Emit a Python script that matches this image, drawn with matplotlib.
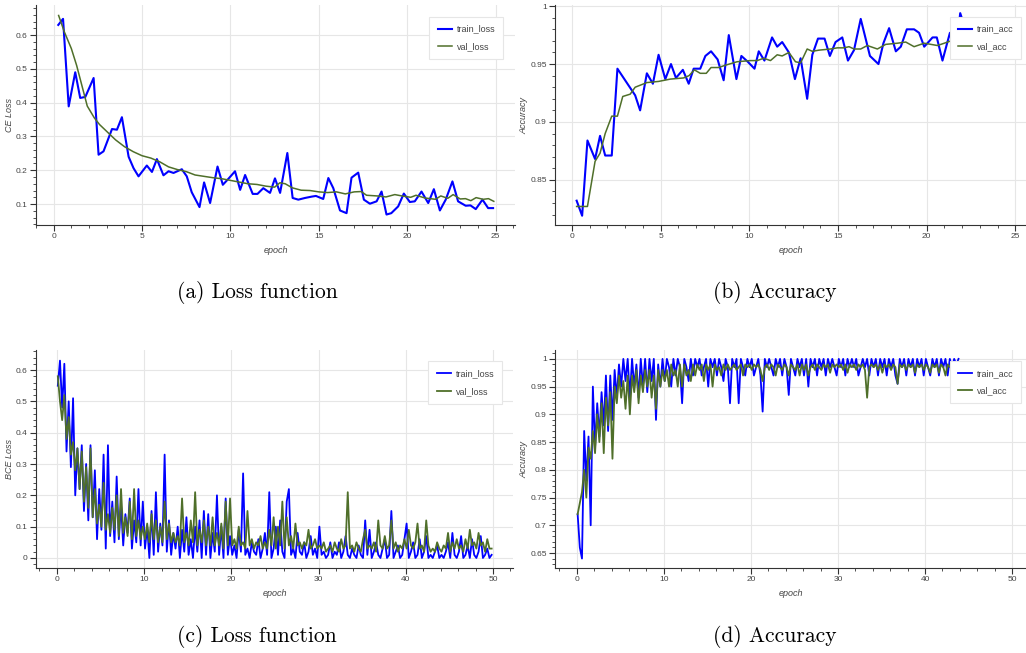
import numpy as np
import matplotlib
matplotlib.use("Agg")
import matplotlib.pyplot as plt
from matplotlib.ticker import MultipleLocator, FuncFormatter

plt.rcParams['font.family'] = ['Liberation Sans', 'DejaVu Sans']

# ---- (a) CE loss, 25 epochs ----
a_train_x = [0.26, 0.53, 0.85, 1.22, 1.5, 1.79, 2.26, 2.54, 2.82, 3.3, 3.58, 3.86, 4.24, 4.52,
             4.8, 5.27, 5.56, 5.84, 6.21, 6.5, 6.78, 7.25, 7.53, 7.81, 8.25, 8.51, 8.85, 9.27,
             9.57, 9.89, 10.26, 10.55, 10.83, 11.26, 11.53, 11.86, 12.24, 12.52, 12.81, 13.22,
             13.52, 13.84, 14.22, 14.6, 14.84, 15.25, 15.54, 15.82, 16.2, 16.57, 16.85, 17.23,
             17.55, 17.89, 18.27, 18.55, 18.83, 19.1, 19.49, 19.81, 20.15, 20.43, 20.81, 21.19,
             21.51, 21.85, 22.18, 22.56, 22.88, 23.31, 23.58, 23.88, 24.26, 24.58, 24.86]
a_train_loss = [0.63, 0.648, 0.389, 0.49, 0.414, 0.417, 0.473, 0.246, 0.256, 0.322, 0.32, 0.357,
                0.24, 0.206, 0.182, 0.214, 0.195, 0.233, 0.185, 0.197, 0.192, 0.203, 0.182, 0.135,
                0.091, 0.164, 0.103, 0.211, 0.157, 0.175, 0.197, 0.142, 0.186, 0.13, 0.13, 0.147,
                0.133, 0.176, 0.133, 0.251, 0.118, 0.113, 0.118, 0.122, 0.124, 0.115, 0.177, 0.147,
                0.081, 0.073, 0.178, 0.193, 0.113, 0.101, 0.108, 0.137, 0.069, 0.073, 0.093, 0.131,
                0.106, 0.108, 0.137, 0.103, 0.144, 0.081, 0.113, 0.167, 0.108, 0.095, 0.096, 0.085,
                0.113, 0.088, 0.088]
a_val_x = [0.28, 0.6, 1.0, 1.3, 1.6, 1.9, 2.3, 2.6, 3.0, 3.5, 4.0, 4.5, 5.0, 5.5, 6.0, 6.5, 7.0,
           7.5, 8.0, 8.5, 9.0, 9.5, 10.0, 10.5, 11.0, 11.5, 12.0, 12.5, 12.8, 13.1, 13.5, 14.0,
           14.5, 15.0, 15.5, 16.0, 16.5, 17.0, 17.4, 17.7, 18.3, 18.8, 19.3, 19.7, 20.2, 20.5,
           21.0, 21.6, 21.9, 22.3, 22.6, 23.0, 23.3, 23.6, 23.9, 24.3, 24.6, 24.9]
a_val_loss = [0.658, 0.61, 0.56, 0.51, 0.45, 0.39, 0.355, 0.335, 0.315, 0.29, 0.27, 0.255, 0.243,
              0.236, 0.225, 0.21, 0.202, 0.196, 0.186, 0.182, 0.178, 0.175, 0.17, 0.165, 0.16,
              0.158, 0.153, 0.15, 0.163, 0.16, 0.148, 0.141, 0.14, 0.136, 0.134, 0.136, 0.13,
              0.136, 0.137, 0.126, 0.124, 0.121, 0.128, 0.124, 0.12, 0.126, 0.118, 0.114, 0.124,
              0.117, 0.128, 0.115, 0.116, 0.11, 0.119, 0.114, 0.116, 0.108]

# ---- (b) accuracy, 25 epochs ----
b_train_x = [0.26, 0.57, 0.87, 1.3, 1.58, 1.87, 2.24, 2.56, 3.56, 3.84, 4.22, 4.56, 4.88, 5.26,
             5.58, 5.86, 6.25, 6.58, 6.86, 7.23, 7.52, 7.84, 8.21, 8.55, 8.84, 9.27, 9.55, 9.91,
             10.29, 10.53, 10.85, 11.28, 11.57, 11.85, 12.23, 12.57, 12.89, 13.26, 13.55, 13.87,
             14.24, 14.54, 14.86, 15.24, 15.56, 15.9, 16.28, 16.8, 17.28, 17.56, 17.88, 18.26,
             18.54, 18.88, 19.29, 19.57, 19.86, 20.1, 20.33, 20.57, 20.89, 21.31, 21.61, 21.89,
             22.08]
b_train_acc = [0.832, 0.819, 0.884, 0.868, 0.888, 0.871, 0.871, 0.946, 0.923, 0.91, 0.942, 0.933,
               0.958, 0.937, 0.95, 0.938, 0.945, 0.933, 0.946, 0.946, 0.957, 0.961, 0.954, 0.936,
               0.975, 0.937, 0.957, 0.952, 0.946, 0.961, 0.953, 0.973, 0.965, 0.969, 0.96, 0.937,
               0.955, 0.92, 0.958, 0.972, 0.972, 0.957, 0.969, 0.973, 0.953, 0.962, 0.989, 0.957,
               0.95, 0.968, 0.981, 0.961, 0.965, 0.98, 0.98, 0.977, 0.965, 0.969, 0.973, 0.973,
               0.953, 0.977, 0.956, 0.994, 0.985]
b_val_x = [0.26, 0.87, 1.3, 1.58, 1.87, 2.24, 2.56, 2.86, 3.28, 3.56, 4.22, 4.88, 5.54, 6.29, 6.6,
           6.9, 7.23, 7.57, 7.84, 8.27, 8.65, 9.31, 10.06, 10.44, 10.81, 11.19, 11.57, 11.85,
           12.23, 12.6, 12.89, 13.26, 13.55, 13.92, 14.58, 14.96, 15.34, 15.62, 15.9, 16.28,
           16.65, 17.22, 17.69, 18.35, 18.82, 19.29, 19.86, 20.61, 20.99, 21.36, 21.93]
b_val_acc = [0.827, 0.827, 0.866, 0.873, 0.89, 0.905, 0.905, 0.922, 0.924, 0.93, 0.934, 0.935,
             0.937, 0.938, 0.94, 0.945, 0.942, 0.942, 0.947, 0.947, 0.949, 0.952, 0.953, 0.953,
             0.955, 0.953, 0.958, 0.957, 0.96, 0.952, 0.951, 0.963, 0.961, 0.962, 0.963, 0.964,
             0.964, 0.965, 0.963, 0.963, 0.966, 0.963, 0.967, 0.968, 0.969, 0.965, 0.968, 0.966,
             0.968, 0.97, 0.968]

# ---- (c) BCE loss, 50 epochs, 4 logged points per epoch ----
c_train_loss = [
    0.55, 0.63, 0.48, 0.62, 0.34, 0.50, 0.29, 0.51,
    0.20, 0.35, 0.22, 0.36, 0.15, 0.30, 0.12, 0.36,
    0.13, 0.28, 0.06, 0.22, 0.09, 0.33, 0.03, 0.36,
    0.07, 0.18, 0.05, 0.26, 0.06, 0.17, 0.04, 0.14,
    0.08, 0.19, 0.03, 0.12, 0.05, 0.22, 0.04, 0.18,
    0.03, 0.10, 0.00, 0.15, 0.01, 0.21, 0.02, 0.11,
    0.04, 0.33, 0.02, 0.12, 0.01, 0.08, 0.03, 0.10,
    0.00, 0.09, 0.02, 0.13, 0.01, 0.06, 0.00, 0.10,
    0.02, 0.12, 0.00, 0.15, 0.01, 0.14, 0.00, 0.08,
    0.02, 0.20, 0.01, 0.10, 0.00, 0.19, 0.01, 0.07,
    0.01, 0.04, 0.00, 0.09, 0.02, 0.27, 0.01, 0.03,
    0.00, 0.05, 0.02, 0.01, 0.06, 0.00, 0.03, 0.08,
    0.01, 0.21, 0.00, 0.03, 0.10, 0.01, 0.12, 0.02,
    0.00, 0.18, 0.22, 0.01, 0.03, 0.00, 0.08, 0.02,
    0.01, 0.05, 0.00, 0.02, 0.07, 0.01, 0.03, 0.00,
    0.10, 0.01, 0.02, 0.00, 0.01, 0.05, 0.00, 0.02,
    0.01, 0.05, 0.00, 0.02, 0.07, 0.01, 0.00, 0.03,
    0.01, 0.00, 0.04, 0.01, 0.00, 0.12, 0.01, 0.09,
    0.00, 0.02, 0.05, 0.01, 0.00, 0.03, 0.06, 0.00,
    0.01, 0.15, 0.00, 0.02, 0.04, 0.00, 0.01, 0.06,
    0.11, 0.00, 0.02, 0.05, 0.00, 0.01, 0.06, 0.00,
    0.02, 0.07, 0.00, 0.01, 0.00, 0.02, 0.04, 0.00,
    0.01, 0.00, 0.02, 0.05, 0.00, 0.08, 0.01, 0.00,
    0.02, 0.07, 0.00, 0.01, 0.04, 0.00, 0.06, 0.01,
    0.00, 0.02, 0.07, 0.00, 0.01, 0.03, 0.00, 0.01]
c_val_loss = [
    0.58, 0.50, 0.44, 0.52, 0.38, 0.45, 0.33, 0.37,
    0.28, 0.35, 0.22, 0.34, 0.18, 0.29, 0.16, 0.35,
    0.13, 0.22, 0.11, 0.17, 0.10, 0.24, 0.09, 0.14,
    0.08, 0.16, 0.09, 0.20, 0.07, 0.22, 0.08, 0.13,
    0.07, 0.18, 0.06, 0.22, 0.07, 0.12, 0.06, 0.10,
    0.06, 0.11, 0.05, 0.14, 0.06, 0.12, 0.05, 0.10,
    0.05, 0.18, 0.06, 0.11, 0.05, 0.08, 0.05, 0.07,
    0.04, 0.19, 0.05, 0.08, 0.04, 0.12, 0.05, 0.21,
    0.04, 0.09, 0.05, 0.12, 0.04, 0.10, 0.04, 0.13,
    0.04, 0.08, 0.04, 0.11, 0.03, 0.18, 0.04, 0.19,
    0.04, 0.06, 0.03, 0.10, 0.04, 0.05, 0.03, 0.15,
    0.04, 0.06, 0.03, 0.05, 0.04, 0.07, 0.03, 0.05,
    0.03, 0.09, 0.04, 0.13, 0.03, 0.10, 0.04, 0.18,
    0.03, 0.13, 0.04, 0.07, 0.03, 0.11, 0.04, 0.05,
    0.03, 0.05, 0.04, 0.09, 0.03, 0.04, 0.06, 0.03,
    0.04, 0.03, 0.05, 0.02, 0.03, 0.04, 0.02, 0.05,
    0.03, 0.02, 0.06, 0.03, 0.04, 0.21, 0.03, 0.04,
    0.02, 0.05, 0.03, 0.02, 0.06, 0.09, 0.03, 0.04,
    0.03, 0.05, 0.02, 0.12, 0.04, 0.03, 0.07, 0.03,
    0.04, 0.12, 0.03, 0.05, 0.02, 0.04, 0.03, 0.06,
    0.03, 0.09, 0.04, 0.03, 0.05, 0.11, 0.03, 0.04,
    0.02, 0.12, 0.04, 0.02, 0.03, 0.02, 0.05, 0.03,
    0.02, 0.04, 0.03, 0.08, 0.02, 0.05, 0.03, 0.06,
    0.03, 0.04, 0.02, 0.06, 0.03, 0.09, 0.04, 0.05,
    0.03, 0.08, 0.04, 0.05, 0.02, 0.06, 0.03, 0.03]

# ---- (d) accuracy, 44 epochs, 4 logged points per epoch ----
d_train_acc = [
    0.72, 0.66, 0.64, 0.87, 0.78, 0.86, 0.70, 0.95,
    0.84, 0.92, 0.86, 0.94, 0.88, 0.97, 0.87, 0.97,
    0.89, 0.98, 0.93, 0.99, 0.95, 1.00, 0.96, 1.00,
    0.93, 1.00, 0.95, 0.99, 0.93, 1.00, 0.95, 1.00,
    0.94, 1.00, 0.96, 1.00, 0.89, 0.99, 0.95, 1.00,
    0.96, 1.00, 0.985, 0.95, 1.00, 0.97, 1.00, 0.985,
    0.92, 1.00, 0.985, 0.96, 1.00, 0.97, 1.00, 0.985,
    1.00, 0.97, 0.985, 1.00, 0.95, 1.00, 0.985, 1.00,
    0.97, 1.00, 0.985, 0.96, 1.00, 0.985, 0.92, 1.00,
    0.985, 1.00, 0.92, 1.00, 0.985, 0.97, 1.00, 0.985,
    1.00, 0.97, 0.985, 1.00, 0.97, 0.905, 1.00, 0.985,
    1.00, 0.985, 0.97, 1.00, 0.985, 1.00, 0.97, 1.00,
    0.985, 0.935, 1.00, 0.985, 0.97, 1.00, 0.985, 1.00,
    0.97, 1.00, 0.95, 1.00, 0.985, 1.00, 0.97, 1.00,
    0.985, 1.00, 0.97, 1.00, 0.985, 1.00, 0.985, 0.97,
    1.00, 0.985, 1.00, 0.97, 1.00, 0.985, 1.00, 0.985,
    1.00, 0.97, 0.985, 1.00, 0.985, 1.00, 0.97, 1.00,
    0.985, 1.00, 0.97, 1.00, 0.985, 1.00, 0.97, 1.00,
    0.985, 1.00, 0.97, 0.955, 1.00, 0.985, 1.00, 0.97,
    1.00, 0.985, 1.00, 0.97, 1.00, 0.985, 1.00, 0.97,
    1.00, 0.985, 0.97, 1.00, 0.985, 1.00, 0.97, 1.00,
    0.985, 1.00, 0.97, 1.00, 0.985, 1.00, 0.99, 1.00]
d_val_acc = [
    0.72, 0.74, 0.76, 0.80, 0.75, 0.84, 0.82, 0.87,
    0.83, 0.90, 0.85, 0.92, 0.83, 0.93, 0.88, 0.94,
    0.82, 0.95, 0.92, 0.97, 0.93, 0.96, 0.91, 0.97,
    0.90, 0.97, 0.94, 0.98, 0.92, 0.97, 0.94, 0.98,
    0.95, 0.98, 0.93, 0.97, 0.91, 0.98, 0.95, 0.98,
    0.96, 0.98, 0.95, 0.99, 0.97, 0.98, 0.95, 0.99,
    0.95, 0.99, 0.97, 0.98, 0.96, 0.99, 0.97, 0.99,
    0.98, 0.99, 0.96, 0.99, 0.98, 0.99, 0.95, 0.99,
    0.98, 0.985, 0.97, 0.99, 0.98, 0.99, 0.98, 0.985,
    0.99, 0.98, 0.985, 0.99, 0.97, 0.99, 0.985, 0.99,
    0.98, 0.99, 0.985, 0.99, 0.98, 0.96, 0.985, 0.99,
    0.98, 0.99, 0.985, 0.97, 0.99, 0.985, 0.98, 0.99,
    0.985, 0.97, 0.99, 0.985, 0.98, 0.99, 0.97, 0.99,
    0.98, 0.99, 0.97, 0.985, 0.99, 0.98, 0.99, 0.985,
    0.98, 0.99, 0.985, 0.99, 0.975, 0.99, 0.985, 0.99,
    0.985, 0.99, 0.98, 0.99, 0.975, 0.99, 0.985, 0.99,
    0.98, 0.99, 0.985, 0.99, 0.98, 0.93, 0.985, 0.99,
    0.985, 0.99, 0.98, 0.99, 0.975, 0.99, 0.985, 0.99,
    0.98, 0.99, 0.985, 0.955, 0.99, 0.985, 0.99, 0.98,
    0.99, 0.985, 0.99, 0.975, 0.99, 0.985, 0.99, 0.98,
    0.99, 0.985, 0.975, 0.99, 0.985, 0.99, 0.975, 0.99,
    0.985, 0.97, 0.99, 0.985, 0.99, 0.985, 0.99, 0.995]

steps_per_epoch = 4
c_epoch = 0.1 + np.arange(len(c_train_loss)) / steps_per_epoch
d_epoch = 0.1 + np.arange(len(d_train_acc)) / steps_per_epoch

BLUE = '#0000ff'
GREEN = '#4f6f2a'
GRAY = '#444444'

W, H = 1026, 653
fig = plt.figure(figsize=(W / 100, H / 100), dpi=100)


def px_axes(left, top, right, bottom):
    return fig.add_axes([left / W, 1 - bottom / H, (right - left) / W, (bottom - top) / H])


def style(ax, xlim, ylim, xmaj, ymaj, ylabel, lw_train, lw_val, legend_xy, labels):
    ax.set_xlim(*xlim)
    ax.set_ylim(*ylim)
    ax.xaxis.set_major_locator(MultipleLocator(xmaj))
    ax.xaxis.set_minor_locator(MultipleLocator(xmaj / 5))
    ax.yaxis.set_major_locator(MultipleLocator(ymaj))
    ax.yaxis.set_minor_locator(MultipleLocator(ymaj / 5))
    fmt = FuncFormatter(lambda v, p: ('%g' % round(v, 4)))
    ax.xaxis.set_major_formatter(fmt)
    ax.yaxis.set_major_formatter(fmt)
    ax.grid(True, which='major', color='#e6e6e6', lw=0.8)
    ax.set_axisbelow(True)
    for s in ['top', 'right']:
        ax.spines[s].set_visible(False)
    for s in ['left', 'bottom']:
        ax.spines[s].set_color('#333333')
        ax.spines[s].set_linewidth(0.8)
    ax.tick_params(which='major', direction='out', length=4, width=0.8, color='#333333',
                   labelsize=6, labelcolor=GRAY, pad=2)
    ax.tick_params(which='minor', direction='out', length=2, width=0.6, color='#333333')
    ax.set_xlabel('epoch', fontstyle='italic', fontsize=6.5, color=GRAY, labelpad=4)
    ax.set_ylabel(ylabel, fontstyle='italic', fontsize=6.5, color=GRAY, labelpad=1)
    leg = ax.legend(labels, loc='upper right', bbox_to_anchor=legend_xy, fontsize=6.5,
                    frameon=True, fancybox=False, edgecolor='#e6e6e6', framealpha=1,
                    handlelength=1.6, handletextpad=0.5, labelspacing=0.9, borderpad=0.9)
    leg.get_frame().set_linewidth(0.8)
    for t in leg.get_texts():
        t.set_color(GRAY)
    leg.get_lines()[0].set_linewidth(lw_train)
    leg.get_lines()[1].set_linewidth(lw_val)


# (a)
ax = px_axes(36, 5, 515, 225)
ax.plot(a_train_x, a_train_loss, color=BLUE, lw=1.5)
ax.plot(a_val_x, a_val_loss, color=GREEN, lw=1.1)
style(ax, (-1.0, 26.1), (0.038, 0.689), 5, 0.1, 'CE Loss', 1.5, 1.1, (0.985, 0.968),
      ['train_loss', 'val_loss'])

# (b)
ax = px_axes(555, 5, 1026, 225)
ax.plot(b_train_x, b_train_acc, color=BLUE, lw=1.5)
ax.plot(b_val_x, b_val_acc, color=GREEN, lw=1.1)
style(ax, (-0.96, 25.6), (0.811, 1.001), 5, 0.05, 'Accuracy', 1.5, 1.1, (1.0, 0.968),
      ['train_acc', 'val_acc'])

# (c)
ax = px_axes(36, 350, 513, 568)
ax.plot(c_epoch, c_train_loss, color=BLUE, lw=1.3)
ax.plot(c_epoch, c_val_loss, color=GREEN, lw=1.3)
style(ax, (-2.4, 52.3), (-0.032, 0.664), 10, 0.1, 'BCE Loss', 1.3, 1.3, (0.987, 0.968),
      ['train_loss', 'val_loss'])

# (d)
ax = px_axes(555, 350, 1026, 568)
ax.plot(d_epoch, d_train_acc, color=BLUE, lw=1.3)
ax.plot(d_epoch, d_val_acc, color=GREEN, lw=1.3)
style(ax, (-2.5, 51.6), (0.623, 1.016), 10, 0.05, 'Accuracy', 1.3, 1.3, (1.0, 0.972),
      ['train_acc', 'val_acc'])

# captions
cap = dict(fontsize=15.5, family=['cmr10', 'DejaVu Serif'], ha='center', va='center')
fig.text(257 / W, 1 - 293 / H, '(a) Loss function', **cap)
fig.text(775 / W, 1 - 293 / H, '(b) Accuracy', **cap)
fig.text(257 / W, 1 - 636 / H, '(c) Loss function', **cap)
fig.text(775 / W, 1 - 636 / H, '(d) Accuracy', **cap)

fig.savefig('out.png', dpi=100)
